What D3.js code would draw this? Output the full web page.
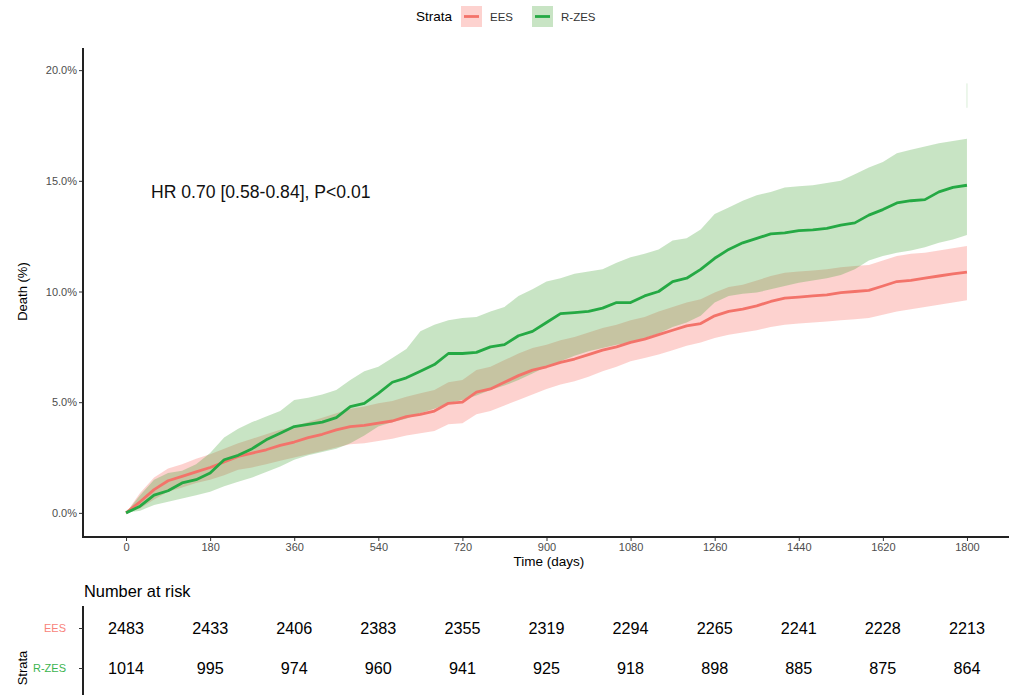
<!DOCTYPE html>
<html>
<head>
<meta charset="utf-8">
<script src="https://cdn.jsdelivr.net/npm/d3@7"></script>
<style>
  body { margin: 0; background: #fff; }
  svg { font-family: "Liberation Sans", Arial, sans-serif; display: block; }
</style>
</head>
<body>
<div id="chart"></div>
<script>
// time grid (days)
const times = [0, 30, 60, 90, 120, 150, 180, 210, 240, 270, 300, 330, 360, 390, 420, 450, 480, 510, 540, 570,
  600, 630, 660, 690, 720, 750, 780, 810, 840, 870, 900, 930, 960, 990, 1020, 1050, 1080, 1110, 1140, 1170,
  1200, 1230, 1260, 1290, 1320, 1350, 1380, 1410, 1440, 1470, 1500, 1530, 1560, 1590, 1620, 1650, 1680, 1710,
  1740, 1770, 1800];

// cumulative death (%) - EES
const eesEst = [0, 0.5, 1.05, 1.45, 1.65, 1.85, 2.05, 2.3, 2.55, 2.7, 2.85, 3.05, 3.2, 3.4, 3.55, 3.75, 3.9, 3.95, 4.05, 4.15,
  4.35, 4.45, 4.6, 4.95, 5.0, 5.45, 5.6, 5.9, 6.2, 6.45, 6.6, 6.8, 6.95, 7.15, 7.35, 7.5, 7.7, 7.85, 8.05, 8.25,
  8.45, 8.55, 8.9, 9.1, 9.2, 9.35, 9.55, 9.7, 9.75, 9.8, 9.85, 9.95, 10.0, 10.05, 10.25, 10.45, 10.5, 10.6,
  10.7, 10.8, 10.88];
const eesUpper = [0, 0.9, 1.6, 2.0, 2.2, 2.45, 2.65, 2.9, 3.15, 3.35, 3.55, 3.75, 3.9, 4.1, 4.3, 4.5, 4.7, 4.8, 4.95, 5.05,
  5.25, 5.4, 5.55, 5.9, 6.0, 6.45, 6.6, 6.9, 7.2, 7.45, 7.6, 7.8, 7.95, 8.15, 8.35, 8.5, 8.7, 8.85, 9.1, 9.3,
  9.5, 9.65, 9.95, 10.2, 10.3, 10.5, 10.7, 10.85, 10.9, 10.95, 11.0, 11.1, 11.15, 11.2, 11.4, 11.6, 11.7, 11.75,
  11.85, 11.95, 12.05];
const eesLower = [0, 0.2, 0.6, 0.95, 1.15, 1.35, 1.5, 1.7, 1.95, 2.05, 2.2, 2.35, 2.5, 2.65, 2.8, 2.95, 3.1, 3.15, 3.25, 3.35,
  3.5, 3.6, 3.7, 4.0, 4.05, 4.45, 4.6, 4.85, 5.1, 5.35, 5.6, 5.8, 5.95, 6.15, 6.4, 6.6, 6.85, 7.0, 7.15, 7.35,
  7.55, 7.7, 7.9, 8.05, 8.15, 8.25, 8.4, 8.5, 8.55, 8.6, 8.65, 8.7, 8.75, 8.8, 8.95, 9.1, 9.2, 9.3,
  9.4, 9.5, 9.6];

// cumulative death (%) - R-ZES
const rzesEst = [0, 0.3, 0.8, 1.0, 1.35, 1.5, 1.8, 2.4, 2.6, 2.9, 3.3, 3.6, 3.9, 4.0, 4.1, 4.3, 4.8, 4.95, 5.4, 5.9,
  6.1, 6.4, 6.7, 7.2, 7.2, 7.25, 7.5, 7.6, 8.0, 8.2, 8.6, 9.0, 9.05, 9.1, 9.25, 9.5, 9.5, 9.8, 10.0, 10.45,
  10.6, 11.0, 11.5, 11.9, 12.2, 12.4, 12.6, 12.65, 12.75, 12.78, 12.85, 13.0, 13.1, 13.45, 13.7, 14.0, 14.1, 14.15,
  14.5, 14.7, 14.8];
const rzesUpper = [0, 0.8, 1.5, 1.8, 1.9, 2.2, 2.7, 3.4, 3.8, 4.1, 4.35, 4.6, 5.1, 5.2, 5.35, 5.55, 6.0, 6.4, 6.6, 7.0,
  7.4, 8.2, 8.5, 8.7, 8.8, 8.85, 9.1, 9.3, 9.8, 10.1, 10.45, 10.6, 10.8, 10.9, 11.0, 11.3, 11.55, 11.7, 11.9, 12.3,
  12.4, 12.8, 13.5, 13.8, 14.1, 14.35, 14.5, 14.7, 14.75, 14.8, 14.9, 15.0, 15.3, 15.6, 15.85, 16.25, 16.4, 16.55,
  16.7, 16.8, 16.9];
const rzesLower = [0, 0.1, 0.35, 0.5, 0.65, 0.8, 0.95, 1.2, 1.4, 1.6, 1.85, 2.1, 2.4, 2.6, 2.75, 2.9, 3.15, 3.5, 3.9, 4.1,
  4.25, 4.5, 4.7, 4.95, 5.1, 5.3, 5.55, 5.75, 6.0, 6.3, 6.6, 6.85, 7.1, 7.3, 7.45, 7.6, 7.7, 7.9, 8.1, 8.4,
  8.6, 8.9, 9.5, 9.8, 9.9, 9.95, 10.1, 10.25, 10.4, 10.5, 10.6, 10.75, 11.0, 11.4, 11.6, 11.75, 11.85, 12.0,
  12.2, 12.35, 12.55];
// faint spike of the upper band at the last time
const rzesTail = [18.3, 19.4];

// risk table
const riskTimes = [0, 180, 360, 540, 720, 900, 1080, 1260, 1440, 1620, 1800];
const eesRisk = [2483, 2433, 2406, 2383, 2355, 2319, 2294, 2265, 2241, 2228, 2213];
const rzesRisk = [1014, 995, 974, 960, 941, 925, 918, 898, 885, 875, 864];

const yTicks = [0, 5, 10, 15, 20];
const strata = ["EES", "R-ZES"];

const W = 1009, H = 695;
const colEES = "#f3736a", colRZES = "#25a944";
const bandEES = "#f8766d", bandRZES = "#48a53a";

const svg = d3.select("#chart").append("svg")
  .attr("width", W)
  .attr("height", H);

const x = d3.scaleLinear().domain([-90, 1890]).range([84, 1009]);
const y = d3.scaleLinear().domain([-1, 21]).range([535, 48]);

const panelTop = 48, panelBottom = 537, panelLeft = 83;

const eesData = times.map((t, i) => ({t: t, est: eesEst[i], lo: eesLower[i], hi: eesUpper[i]}));
const rzesData = times.map((t, i) => ({t: t, est: rzesEst[i], lo: rzesLower[i], hi: rzesUpper[i]}));

const area = d3.area()
  .x(d => x(d.t))
  .y0(d => y(d.lo))
  .y1(d => y(d.hi));
const line = d3.line()
  .x(d => x(d.t))
  .y(d => y(d.est));

// bands (green drawn over pink gives the olive overlap)
svg.append("path").datum(eesData).attr("d", area)
  .attr("fill", bandEES).attr("fill-opacity", 0.33);
svg.append("path").datum(rzesData).attr("d", area)
  .attr("fill", bandRZES).attr("fill-opacity", 0.3);
svg.append("line")
  .attr("x1", x(1800)).attr("x2", x(1800))
  .attr("y1", y(rzesTail[0])).attr("y2", y(rzesTail[1]))
  .attr("stroke", bandRZES).attr("stroke-opacity", 0.2).attr("stroke-width", 1);

// curves
svg.append("path").datum(eesData).attr("d", line)
  .attr("fill", "none").attr("stroke", colEES).attr("stroke-width", 2.8)
  .attr("stroke-linejoin", "round");
svg.append("path").datum(rzesData).attr("d", line)
  .attr("fill", "none").attr("stroke", colRZES).attr("stroke-width", 2.8)
  .attr("stroke-linejoin", "round");

// axes
const yAxis = svg.append("g")
  .attr("transform", "translate(" + panelLeft + ",0)")
  .call(d3.axisLeft(y).tickValues(yTicks).tickSize(4).tickFormat(d => d.toFixed(1) + "%"));
const xAxis = svg.append("g")
  .attr("transform", "translate(0," + panelBottom + ")")
  .call(d3.axisBottom(x).tickValues(riskTimes).tickSize(4).tickFormat(d3.format("d")));
[yAxis, xAxis].forEach(g => {
  g.select(".domain").remove();
  g.selectAll(".tick line").attr("stroke", "#333");
  g.selectAll(".tick text").attr("fill", "#4d4d4d").style("font-size", "11px");
});
yAxis.selectAll(".tick text").attr("x", -6);
xAxis.selectAll(".tick text").attr("y", 6);

svg.append("line")
  .attr("x1", panelLeft).attr("x2", panelLeft)
  .attr("y1", panelTop).attr("y2", panelBottom + 1)
  .attr("stroke", "#222").attr("stroke-width", 2);
svg.append("line")
  .attr("x1", panelLeft - 1).attr("x2", W)
  .attr("y1", panelBottom).attr("y2", panelBottom)
  .attr("stroke", "#222").attr("stroke-width", 2);

svg.append("text")
  .attr("x", 549).attr("y", 566)
  .attr("text-anchor", "middle")
  .style("font-size", "13.5px")
  .text("Time (days)");
svg.append("text")
  .attr("transform", "translate(27," + y(10) + ") rotate(-90)")
  .attr("text-anchor", "middle")
  .style("font-size", "13px")
  .text("Death (%)");

svg.append("text")
  .attr("x", 151).attr("y", 198)
  .style("font-size", "17.6px")
  .attr("fill", "#111")
  .text("HR 0.70 [0.58-0.84], P<0.01");

// legend
const legend = svg.append("g");
legend.append("text")
  .attr("x", 416).attr("y", 21)
  .style("font-size", "13.5px")
  .text("Strata");
const keys = legend.selectAll(".key")
  .data(strata)
  .enter().append("g")
  .attr("class", "key")
  .attr("transform", (d, i) => "translate(" + (461 + i * 71) + ",6)");
keys.append("rect")
  .attr("width", 21).attr("height", 21)
  .attr("fill", (d, i) => i === 0 ? bandEES : bandRZES)
  .attr("fill-opacity", (d, i) => i === 0 ? 0.33 : 0.3);
keys.append("line")
  .attr("x1", 3).attr("x2", 18).attr("y1", 10.5).attr("y2", 10.5)
  .attr("stroke", (d, i) => i === 0 ? colEES : colRZES)
  .attr("stroke-width", 2.8);
keys.append("text")
  .attr("x", 29).attr("y", 15)
  .style("font-size", "11.5px")
  .attr("fill", "#333")
  .text(d => d);

// risk table
svg.append("text")
  .attr("x", 84).attr("y", 597)
  .style("font-size", "16.4px")
  .text("Number at risk");

const rowY = d3.scalePoint().domain(strata).range([628, 668]);

svg.append("line")
  .attr("x1", panelLeft).attr("x2", panelLeft)
  .attr("y1", 606).attr("y2", H)
  .attr("stroke", "#222").attr("stroke-width", 2);
const rowAxis = svg.append("g")
  .attr("transform", "translate(" + panelLeft + ",0)")
  .call(d3.axisLeft(rowY).tickSize(4));
rowAxis.select(".domain").remove();
rowAxis.selectAll(".tick line").attr("stroke", "#333");
rowAxis.selectAll(".tick text")
  .attr("x", -17)
  .style("font-size", "11px")
  .attr("fill", d => d === "EES" ? "#f8837a" : "#3cb44f");

svg.append("text")
  .attr("transform", "translate(27,668) rotate(-90)")
  .attr("text-anchor", "middle")
  .style("font-size", "13px")
  .text("Strata");

const rows = [eesRisk, rzesRisk];
rows.forEach((vals, r) => {
  svg.selectAll(".risk" + r)
    .data(vals)
    .enter().append("text")
    .attr("class", "risk" + r)
    .attr("x", (d, i) => x(riskTimes[i]))
    .attr("y", rowY(strata[r]) + 6)
    .attr("text-anchor", "middle")
    .style("font-size", "16.2px")
    .text(d => d);
});
</script>
</body>
</html>
